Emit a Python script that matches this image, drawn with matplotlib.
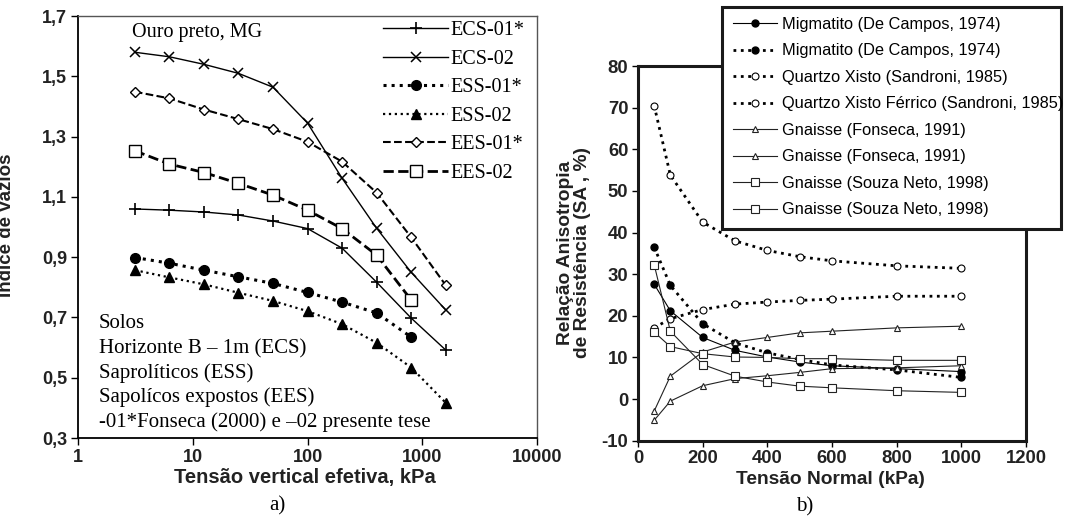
# Libraries
import numpy as np
import matplotlib
matplotlib.use("Agg")
import matplotlib.pyplot as plt
from matplotlib.patches import Rectangle
from matplotlib.ticker import FixedLocator, FixedFormatter, NullLocator

plt.rcParams['axes.unicode_minus'] = False

# Data - panel a) (indice de vazios x tensao vertical efetiva)
tensao_a = [3.125, 6.25, 12.5, 25, 50, 100, 200, 400, 800, 1600]
ecs01 = [1.06, 1.056, 1.05, 1.04, 1.02, 0.995, 0.93, 0.817, 0.698, 0.592]
ecs02 = [1.58, 1.565, 1.54, 1.51, 1.464, 1.345, 1.162, 0.996, 0.85, 0.725]
ess01 = [0.899, 0.88, 0.857, 0.835, 0.813, 0.783, 0.751, 0.715, 0.635]
ess02 = [0.857, 0.833, 0.81, 0.782, 0.755, 0.721, 0.678, 0.616, 0.534, 0.417]
ees01 = [1.449, 1.427, 1.39, 1.358, 1.325, 1.283, 1.217, 1.114, 0.966, 0.807]
ees02 = [1.253, 1.209, 1.181, 1.145, 1.106, 1.056, 0.995, 0.907, 0.758]

# Data - panel b) (relacao anisotropia x tensao normal)
tensao_b = [50, 100, 200, 300, 400, 500, 600, 800, 1000]
migm_1 = [27.6, 21.2, 14.8, 11.7, 10.1, 8.9, 8.0, 7.3, 6.6]
migm_2 = [36.5, 27.3, 18.1, 13.5, 11.1, 9.5, 8.2, 7.0, 5.2]
qx = [17.1, 19.3, 21.5, 22.8, 23.3, 23.7, 24.0, 24.7, 24.7]
qx_ferr = [70.5, 53.8, 42.5, 38.0, 35.7, 34.2, 33.2, 32.0, 31.4]
gn_fons_1 = [-2.9, 5.5, 11.3, 13.7, 14.8, 15.9, 16.3, 17.1, 17.5]
gn_fons_2 = [-5.1, -0.5, 3.2, 4.9, 5.6, 6.4, 7.3, 7.5, 8.0]
gn_souza_1 = [32.3, 16.3, 8.3, 5.5, 4.1, 3.1, 2.7, 2.0, 1.6]
gn_souza_2 = [16.1, 12.6, 10.9, 10.1, 10.0, 9.7, 9.7, 9.3, 9.3]

serif = "Liberation Serif"
sans = "Liberation Sans"
W, H = 1066, 519

fig = plt.figure(figsize=(10.66, 5.19), dpi=100)

# ---------------- a) ----------------
ax1 = fig.add_axes([0.0732, 0.156, 0.4306, 0.813])
ax1.plot(tensao_a, ecs01, '-', color='black', lw=1, marker='+', ms=9, mew=1.2, label='ECS-01*')
ax1.plot(tensao_a, ecs02, '-', color='black', lw=1, marker='x', ms=7, mew=1.1, label='ECS-02')
ax1.plot(tensao_a[:len(ess01)], ess01, ':', color='black', lw=2.2, marker='o', ms=7, label='ESS-01*')
ax1.plot(tensao_a, ess02, ':', color='black', lw=1.6, marker='^', ms=7, label='ESS-02')
ax1.plot(tensao_a, ees01, '--', color='black', lw=1.5, marker='D', ms=5,
         mfc='white', mew=1, label='EES-01*')
ax1.plot(tensao_a[:len(ees02)], ees02, '--', color='black', lw=2, marker='s', ms=8,
         mfc='white', mew=1, label='EES-02')

ax1.set_xscale('log')
ax1.set_xlim(1, 10000)
ax1.set_ylim(0.3, 1.7)
ax1.xaxis.set_major_locator(FixedLocator([1, 10, 100, 1000, 10000]))
ax1.xaxis.set_major_formatter(FixedFormatter(['1', '10', '100', '1000', '10000']))
ax1.xaxis.set_minor_locator(NullLocator())
yt = [0.3, 0.5, 0.7, 0.9, 1.1, 1.3, 1.5, 1.7]
ax1.set_yticks(yt)
ax1.set_yticklabels([f"{v:.1f}".replace('.', ',') for v in yt])
for lab in ax1.get_xticklabels() + ax1.get_yticklabels():
    lab.set_fontfamily(sans)
    lab.set_fontweight('bold')
    lab.set_fontsize(13)
    lab.set_color('#222222')
ax1.tick_params(direction='out', length=5, width=1, pad=3)
for s in ['left', 'bottom']:
    ax1.spines[s].set_linewidth(1.3)
for s in ['top', 'right']:
    ax1.spines[s].set_linewidth(1)
    ax1.spines[s].set_color('#555555')

fig.text(132 / W, 1 - 33 / H, "Ouro preto, MG", fontfamily=serif, fontsize=14.5,
         va='center', ha='left')
notes = ["Solos", "Horizonte B \u2013 1m (ECS)", "Saprolíticos (ESS)",
         "Sapolícos expostos (EES)", "-01*Fonseca (2000) e \u201302 presente tese"]
for i, t in enumerate(notes):
    fig.text(99 / W, 1 - (324 + 24.5 * i) / H, t, fontfamily=serif, fontsize=15,
             va='center', ha='left')

ax1.legend(loc='upper left', bbox_to_anchor=(383 / W, 1 - 21 / H),
           bbox_transform=fig.transFigure, frameon=False,
           prop={'family': serif, 'size': 14.5}, handlelength=3.25,
           handletextpad=0.1, labelspacing=0.47, borderpad=0, borderaxespad=0)

fig.text(305 / W, 1 - 478 / H, "Tensão vertical efetiva, kPa", fontfamily=sans,
         fontweight='bold', fontsize=14.5, ha='center', va='center', color='#222222')
# y label sits at the very edge of the picture (partly cut, as in the original)
fig.text(7 / W, 1 - 225 / H, "Índice de vazios", fontfamily=sans,
         fontweight='bold', fontsize=13.5, ha='center', va='center', rotation=90,
         color='#222222')
fig.text(277 / W, 1 - 506 / H, "a)", fontfamily=serif, fontsize=15,
         ha='center', va='center')

# ---------------- b) ----------------
ax2 = fig.add_axes([0.5985, 0.1509, 0.364, 0.7219])
ax2.plot(tensao_b, migm_1, '-', color='black', lw=0.8, marker='o', ms=5,
         label='Migmatito (De Campos, 1974)')
ax2.plot(tensao_b, migm_2, ':', color='black', lw=2, marker='o', ms=5,
         label='Migmatito (De Campos, 1974)')
ax2.plot(tensao_b, qx, ':', color='black', lw=2, marker='o', ms=5, mfc='white',
         mew=0.8, label='Quartzo Xisto (Sandroni, 1985)')
ax2.plot(tensao_b, qx_ferr, ':', color='black', lw=2, marker='o', ms=5, mfc='white',
         mew=0.8, label='Quartzo Xisto Férrico (Sandroni, 1985)')
ax2.plot(tensao_b, gn_fons_1, '-', color='#222222', lw=0.8, marker='^', ms=5, mfc='white',
         mew=0.8, label='Gnaisse (Fonseca, 1991)')
ax2.plot(tensao_b, gn_fons_2, '-', color='#222222', lw=0.8, marker='^', ms=5, mfc='white',
         mew=0.8, label='Gnaisse (Fonseca, 1991)')
ax2.plot(tensao_b, gn_souza_1, '-', color='#222222', lw=0.8, marker='s', ms=6, mfc='white',
         mew=0.8, label='Gnaisse (Souza Neto, 1998)')
ax2.plot(tensao_b, gn_souza_2, '-', color='#222222', lw=0.8, marker='s', ms=6, mfc='white',
         mew=0.8, label='Gnaisse (Souza Neto, 1998)')

ax2.set_xlim(0, 1200)
ax2.set_ylim(-10, 80)
ax2.set_xticks(np.arange(0, 1201, 200))
ax2.set_yticks(np.arange(-10, 81, 10))
for lab in ax2.get_xticklabels() + ax2.get_yticklabels():
    lab.set_fontfamily(sans)
    lab.set_fontweight('bold')
    lab.set_fontsize(13.3)
    lab.set_color('#222222')
ax2.tick_params(direction='out', length=4, width=1, pad=3)
for s in ax2.spines.values():
    s.set_linewidth(2.2)
    s.set_color('#1a1a1a')

# legend box (fixed size, drawn over the axes like in the original)
box = Rectangle((722 / W, 1 - 229 / H), (1061 - 722) / W, (229 - 7) / H,
                transform=fig.transFigure, facecolor='white', edgecolor='#1a1a1a',
                lw=2.2, zorder=2)
fig.patches.append(box)
handles, labels = ax2.get_legend_handles_labels()
leg2 = fig.legend(handles, labels, loc='upper left',
                  bbox_to_anchor=(733 / W, 1 - 17 / H),
                  prop={'family': sans, 'size': 11.8}, handlelength=2.7,
                  handletextpad=0.3, labelspacing=0.7, borderpad=0,
                  borderaxespad=0, frameon=False)
leg2.set_zorder(5)

fig.text(830 / W, 1 - 480 / H, "Tensão Normal (kPa)", fontfamily=sans,
         fontweight='bold', fontsize=13.8, ha='center', va='center', color='#222222')
fig.text(574 / W, 1 - 253 / H, "Relação Anisotropia\nde Resistência (SA , %)",
         fontfamily=sans, fontweight='bold', fontsize=13.8, ha='center', va='center',
         rotation=90, color='#222222', linespacing=1.0)
fig.text(805 / W, 1 - 507 / H, "b)", fontfamily=serif, fontsize=15,
         ha='center', va='center')

plt.savefig('out.png', dpi=100)
